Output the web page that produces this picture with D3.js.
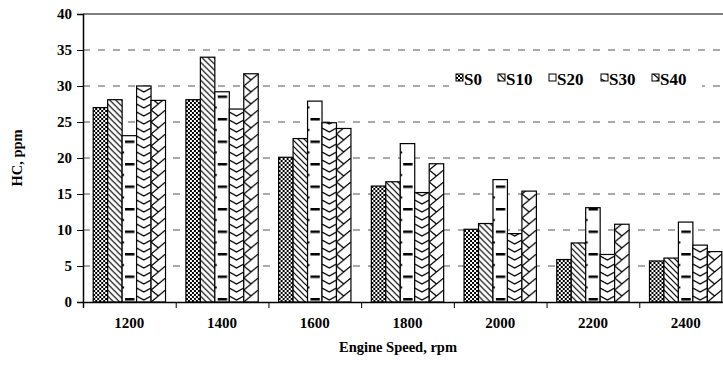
<!DOCTYPE html>
<html><head><meta charset="utf-8">
<script src="https://cdn.jsdelivr.net/npm/d3@7"></script>
<style>
html,body{margin:0;padding:0;background:#fff;}
svg{display:block;}
text{font-family:"Liberation Serif","Times New Roman",serif;font-weight:bold;fill:#000;}
</style></head>
<body><svg id="c" width="723" height="367"></svg>
<script>
const categories = ["1200","1400","1600","1800","2000","2200","2400"];
const seriesNames = ["S0","S10","S20","S30","S40"];
const S0  = [27.0, 28.1, 20.1, 16.1, 10.1, 5.9, 5.7];
const S10 = [28.1, 34.0, 22.7, 16.7, 10.9, 8.2, 6.1];
const S20 = [23.1, 29.2, 27.9, 22.0, 17.0, 13.1, 11.1];
const S30 = [30.0, 26.8, 24.9, 15.2, 9.5, 6.6, 7.9];
const S40 = [28.0, 31.7, 24.1, 19.2, 15.4, 10.8, 7.0];
const yTicks = [0,5,10,15,20,25,30,35,40];
const seriesValues = [S0,S10,S20,S30,S40];

const svg = d3.select("#c");
const L = 83, R = 732, T = 14, B = 302;
const y = d3.scaleLinear().domain([0,40]).range([B,T]);
const x0 = d3.scaleBand().domain(categories).range([L,R]).paddingInner(0.22).paddingOuter(0.11);
const x1 = d3.scaleBand().domain(seriesNames).range([0,x0.bandwidth()]);
const bw = x1.bandwidth();

// patterns
const defs = svg.append("defs");
let p = defs.append("pattern").attr("id","p0").attr("patternUnits","userSpaceOnUse").attr("width",4).attr("height",4);
p.append("rect").attr("width",4).attr("height",4).attr("fill","#fff");
p.append("rect").attr("x",0).attr("y",0).attr("width",2).attr("height",2).attr("fill","#000");
p.append("rect").attr("x",2).attr("y",2).attr("width",2).attr("height",2).attr("fill","#000");
p = defs.append("pattern").attr("id","p1").attr("patternUnits","userSpaceOnUse").attr("width",6).attr("height",6);
p.append("rect").attr("width",6).attr("height",6).attr("fill","#fff");
p.append("path").attr("d","M-1,-1L7,7M-1,5L1,7M5,-1L7,1").attr("stroke","#000").attr("stroke-width",1.2);
p = defs.append("pattern").attr("id","p2").attr("patternUnits","userSpaceOnUse").attr("width",bw).attr("height",22.5).attr("y",-4);
p.append("rect").attr("width",bw).attr("height",22.5).attr("fill","#fff");
p.append("rect").attr("x",bw*0.2).attr("y",0).attr("width",bw*0.65).attr("height",2.5).attr("fill","#000");
p.append("rect").attr("x",0).attr("y",11).attr("width",2).attr("height",2).attr("fill","#000");
p = defs.append("pattern").attr("id","p3").attr("patternUnits","userSpaceOnUse").attr("width",bw).attr("height",8);
p.append("rect").attr("width",bw).attr("height",8).attr("fill","#fff");
p.append("path").attr("d",`M0,2L${bw/2},6L${bw},2`).attr("fill","none").attr("stroke","#000").attr("stroke-width",1.4);
p = defs.append("pattern").attr("id","p4").attr("patternUnits","userSpaceOnUse").attr("width",bw).attr("height",12);
p.append("rect").attr("width",bw).attr("height",12).attr("fill","#fff");
p.append("path").attr("d",`M0,12L${bw},0M0,0L${bw/2},6`).attr("fill","none").attr("stroke","#000").attr("stroke-width",1.3);

// gridlines
svg.append("g").selectAll("line").data(yTicks.filter(d=>d>0 && d<40)).join("line")
  .attr("x1",L).attr("x2",723).attr("y1",d=>y(d)).attr("y2",d=>y(d))
  .attr("stroke","#555").attr("stroke-width",1).attr("stroke-dasharray","7,8");
svg.append("line").attr("x1",L).attr("x2",723).attr("y1",y(40)).attr("y2",y(40)).attr("stroke","#000").attr("stroke-width",1);

// bars
const groups = svg.append("g").selectAll("g").data(categories).join("g");
groups.each(function(cat,i){
  const g = d3.select(this);
  seriesNames.forEach((s,k)=>{
    const v = seriesValues[k][i];
    const bx = x0(cat)+x1(s);
    const bg = g.append("g").attr("transform",`translate(${bx},${B})`);
    bg.append("rect").attr("x",0).attr("y",y(v)-B).attr("width",bw).attr("height",B-y(v))
      .attr("fill",`url(#p${k})`).attr("stroke","#000").attr("stroke-width",1.2);
  });
});

// y axis
const ya = svg.append("g").attr("transform",`translate(${L},0)`)
  .call(d3.axisLeft(y).tickValues(yTicks).tickSize(6).tickPadding(5).tickFormat(d3.format("d")));
ya.select(".domain").attr("stroke","#000").attr("stroke-width",1.5);
ya.selectAll(".tick line").attr("stroke","#000");
ya.selectAll("text").style("font-size","15px").style("font-family","Liberation Serif").style("font-weight","bold");

// x axis
const xb = d3.scaleLinear().domain([0,7]).range([L,R]);
const xa = svg.append("g").attr("transform",`translate(0,${B})`)
  .call(d3.axisBottom(xb).tickValues(d3.range(0,8)).tickSize(6).tickFormat(""));
xa.select(".domain").attr("stroke","#000").attr("stroke-width",1.5);
xa.selectAll(".tick line").attr("stroke","#000");
const xl = svg.append("g").attr("transform",`translate(0,${B})`)
  .call(d3.axisBottom(x0).tickSize(0).tickPadding(15));
xl.select(".domain").remove();
xl.selectAll("text").style("font-size","15px").style("font-family","Liberation Serif").style("font-weight","bold");

// axis titles
svg.append("text").attr("x",398).attr("y",352).attr("text-anchor","middle").style("font-size","14.5px").text("Engine Speed, rpm");
svg.append("text").attr("transform","translate(22,158) rotate(-90)").attr("text-anchor","middle").style("font-size","14.5px").text("HC, ppm");

// legend
const lg = svg.append("g");
lg.append("rect").attr("x",449).attr("y",64).attr("width",253).attr("height",26).attr("fill","#fff");
const legX = [456,498,549,601,652];
seriesNames.forEach((s,k)=>{
  const gx = lg.append("g").attr("transform",`translate(${legX[k]},85)`);
  gx.append("rect").attr("x",0).attr("y",-11).attr("width",7).attr("height",7)
    .attr("fill",`url(#p${k})`).attr("stroke","#000").attr("stroke-width",1);
  lg.append("text").attr("x",legX[k]+8).attr("y",85).style("font-size","17px").text(s);
});
</script></body></html>
